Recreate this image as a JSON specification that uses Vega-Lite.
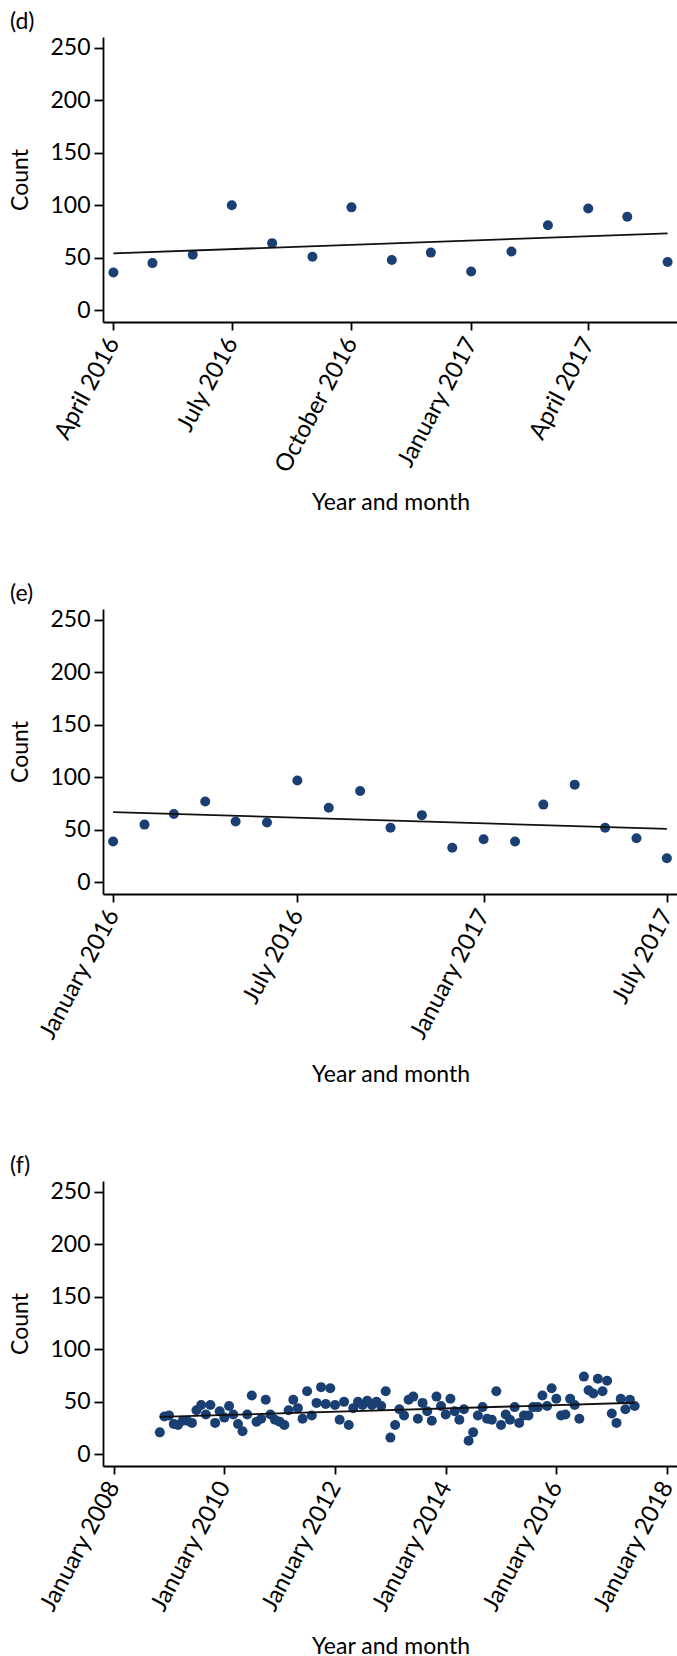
{
  "$schema": "https://vega.github.io/schema/vega-lite/v6.json",
  "padding": {"left": 9, "top": 10, "right": 0, "bottom": 0},
  "autosize": {"type": "pad"},
  "config": {
    "font": "Lato",
    "view": {"stroke": null},
    "axis": {"grid": false, "domainColor": "#000", "domainWidth": 1.8, "tickColor": "#000", "tickWidth": 1.8, "labelFont": "Lato", "labelFontSize": 23, "labelColor": "#000", "titleFont": "Lato", "titleFontSize": 23, "titleFontWeight": "normal", "titleColor": "#000"},
    "axisX": {"labelFontSize": 24, "labelAngle": -62, "tickSize": 8, "labelPadding": 9, "titleY": 187, "titleBaseline": "alphabetic"},
    "axisY": {"tickSize": 9, "labelPadding": 4, "titlePadding": 17},
    "title": {"fontSize": 23, "fontWeight": "normal", "anchor": "start", "frame": "bounds", "color": "#000", "offset": 3},
    "concat": {"spacing": 68}
  },
  "datasets": {
    "d": [
      {"month": "2016-04-01", "count": 36}, {"month": "2016-05-01", "count": 45}, {"month": "2016-06-01", "count": 53},
      {"month": "2016-07-01", "count": 100}, {"month": "2016-08-01", "count": 64}, {"month": "2016-09-01", "count": 51},
      {"month": "2016-10-01", "count": 98}, {"month": "2016-11-01", "count": 48}, {"month": "2016-12-01", "count": 55},
      {"month": "2017-01-01", "count": 37}, {"month": "2017-02-01", "count": 56}, {"month": "2017-03-01", "count": 81},
      {"month": "2017-04-01", "count": 97}, {"month": "2017-05-01", "count": 89}, {"month": "2017-06-01", "count": 46}
    ],
    "e": [
      {"month": "2016-01-01", "count": 39}, {"month": "2016-02-01", "count": 55}, {"month": "2016-03-01", "count": 65},
      {"month": "2016-04-01", "count": 77}, {"month": "2016-05-01", "count": 58}, {"month": "2016-06-01", "count": 57},
      {"month": "2016-07-01", "count": 97}, {"month": "2016-08-01", "count": 71}, {"month": "2016-09-01", "count": 87},
      {"month": "2016-10-01", "count": 52}, {"month": "2016-11-01", "count": 64}, {"month": "2016-12-01", "count": 33},
      {"month": "2017-01-01", "count": 41}, {"month": "2017-02-01", "count": 39}, {"month": "2017-03-01", "count": 74},
      {"month": "2017-04-01", "count": 93}, {"month": "2017-05-01", "count": 52}, {"month": "2017-06-01", "count": 42},
      {"month": "2017-07-01", "count": 23}
    ],
    "f": [
      {"month": "2008-11-01", "count": 21}, {"month": "2008-12-01", "count": 36},
      {"month": "2009-01-01", "count": 37}, {"month": "2009-02-01", "count": 29}, {"month": "2009-03-01", "count": 28},
      {"month": "2009-04-01", "count": 32}, {"month": "2009-05-01", "count": 32}, {"month": "2009-06-01", "count": 30},
      {"month": "2009-07-01", "count": 42}, {"month": "2009-08-01", "count": 47}, {"month": "2009-09-01", "count": 38},
      {"month": "2009-10-01", "count": 47}, {"month": "2009-11-01", "count": 30}, {"month": "2009-12-01", "count": 41},
      {"month": "2010-01-01", "count": 35}, {"month": "2010-02-01", "count": 46}, {"month": "2010-03-01", "count": 38},
      {"month": "2010-04-01", "count": 29}, {"month": "2010-05-01", "count": 22}, {"month": "2010-06-01", "count": 38},
      {"month": "2010-07-01", "count": 56}, {"month": "2010-08-01", "count": 31}, {"month": "2010-09-01", "count": 34},
      {"month": "2010-10-01", "count": 52}, {"month": "2010-11-01", "count": 38}, {"month": "2010-12-01", "count": 33},
      {"month": "2011-01-01", "count": 31}, {"month": "2011-02-01", "count": 28}, {"month": "2011-03-01", "count": 42},
      {"month": "2011-04-01", "count": 52}, {"month": "2011-05-01", "count": 44}, {"month": "2011-06-01", "count": 34},
      {"month": "2011-07-01", "count": 60}, {"month": "2011-08-01", "count": 37}, {"month": "2011-09-01", "count": 49},
      {"month": "2011-10-01", "count": 64}, {"month": "2011-11-01", "count": 48}, {"month": "2011-12-01", "count": 63},
      {"month": "2012-01-01", "count": 47}, {"month": "2012-02-01", "count": 33}, {"month": "2012-03-01", "count": 50},
      {"month": "2012-04-01", "count": 28}, {"month": "2012-05-01", "count": 44}, {"month": "2012-06-01", "count": 50},
      {"month": "2012-07-01", "count": 47}, {"month": "2012-08-01", "count": 51}, {"month": "2012-09-01", "count": 47},
      {"month": "2012-10-01", "count": 50}, {"month": "2012-11-01", "count": 46}, {"month": "2012-12-01", "count": 60},
      {"month": "2013-01-01", "count": 16}, {"month": "2013-02-01", "count": 28}, {"month": "2013-03-01", "count": 43},
      {"month": "2013-04-01", "count": 37}, {"month": "2013-05-01", "count": 52}, {"month": "2013-06-01", "count": 55},
      {"month": "2013-07-01", "count": 34}, {"month": "2013-08-01", "count": 49}, {"month": "2013-09-01", "count": 41},
      {"month": "2013-10-01", "count": 32}, {"month": "2013-11-01", "count": 55}, {"month": "2013-12-01", "count": 46},
      {"month": "2014-01-01", "count": 38}, {"month": "2014-02-01", "count": 53}, {"month": "2014-03-01", "count": 41},
      {"month": "2014-04-01", "count": 33}, {"month": "2014-05-01", "count": 43}, {"month": "2014-06-01", "count": 13},
      {"month": "2014-07-01", "count": 21}, {"month": "2014-08-01", "count": 37}, {"month": "2014-09-01", "count": 45},
      {"month": "2014-10-01", "count": 34}, {"month": "2014-11-01", "count": 33}, {"month": "2014-12-01", "count": 60},
      {"month": "2015-01-01", "count": 28}, {"month": "2015-02-01", "count": 38}, {"month": "2015-03-01", "count": 33},
      {"month": "2015-04-01", "count": 45}, {"month": "2015-05-01", "count": 30}, {"month": "2015-06-01", "count": 37},
      {"month": "2015-07-01", "count": 37}, {"month": "2015-08-01", "count": 45}, {"month": "2015-09-01", "count": 45},
      {"month": "2015-10-01", "count": 56}, {"month": "2015-11-01", "count": 46}, {"month": "2015-12-01", "count": 63},
      {"month": "2016-01-01", "count": 53}, {"month": "2016-02-01", "count": 37}, {"month": "2016-03-01", "count": 38},
      {"month": "2016-04-01", "count": 53}, {"month": "2016-05-01", "count": 47}, {"month": "2016-06-01", "count": 34},
      {"month": "2016-07-01", "count": 74}, {"month": "2016-08-01", "count": 61}, {"month": "2016-09-01", "count": 58},
      {"month": "2016-10-01", "count": 72}, {"month": "2016-11-01", "count": 60}, {"month": "2016-12-01", "count": 70},
      {"month": "2017-01-01", "count": 39}, {"month": "2017-02-01", "count": 30}, {"month": "2017-03-01", "count": 53},
      {"month": "2017-04-01", "count": 43}, {"month": "2017-05-01", "count": 52}, {"month": "2017-06-01", "count": 46}
    ]
  },
  "vconcat": [
    {
      "title": {"text": "(d)"},
      "width": 575, "height": 285,
      "data": {"name": "d"},
      "layer": [
        {
          "mark": {"type": "point", "filled": true, "size": 100, "color": "#1a3f72", "opacity": 1},
          "encoding": {
            "x": {"field": "month", "type": "temporal",
              "scale": {"type": "utc", "domain": [{"year": 2016, "month": 3, "date": 24, "utc": true}, {"year": 2017, "month": 6, "date": 9, "utc": true}]},
              "axis": {"values": [{"year": 2016, "month": 4, "date": 1, "utc": true}, {"year": 2016, "month": 7, "date": 1, "utc": true}, {"year": 2016, "month": 10, "date": 1, "utc": true}, {"year": 2017, "month": 1, "date": 1, "utc": true}, {"year": 2017, "month": 4, "date": 1, "utc": true}],
                "labelExpr": "utcFormat(datum.value, '%B %Y')", "title": "Year and month"}},
            "y": {"field": "count", "type": "quantitative",
              "scale": {"domain": [-11, 260], "nice": false, "zero": false},
              "axis": {"values": [0, 50, 100, 150, 200, 250], "title": "Count"}}
          }
        },
        {
          "transform": [{"regression": "count", "on": "month"}],
          "mark": {"type": "line", "color": "#111111", "strokeWidth": 1.8},
          "encoding": {"x": {"field": "month", "type": "temporal"}, "y": {"field": "count", "type": "quantitative"}}
        }
      ]
    },
    {
      "title": {"text": "(e)"},
      "width": 575, "height": 285,
      "data": {"name": "e"},
      "layer": [
        {
          "mark": {"type": "point", "filled": true, "size": 100, "color": "#1a3f72", "opacity": 1},
          "encoding": {
            "x": {"field": "month", "type": "temporal",
              "scale": {"type": "utc", "domain": [{"year": 2015, "month": 12, "date": 22, "utc": true}, {"year": 2017, "month": 7, "date": 12, "utc": true}]},
              "axis": {"values": [{"year": 2016, "month": 1, "date": 1, "utc": true}, {"year": 2016, "month": 7, "date": 1, "utc": true}, {"year": 2017, "month": 1, "date": 1, "utc": true}, {"year": 2017, "month": 7, "date": 1, "utc": true}],
                "labelExpr": "utcFormat(datum.value, '%B %Y')", "title": "Year and month"}},
            "y": {"field": "count", "type": "quantitative",
              "scale": {"domain": [-11, 260], "nice": false, "zero": false},
              "axis": {"values": [0, 50, 100, 150, 200, 250], "title": "Count"}}
          }
        },
        {
          "transform": [{"regression": "count", "on": "month"}],
          "mark": {"type": "line", "color": "#111111", "strokeWidth": 1.8},
          "encoding": {"x": {"field": "month", "type": "temporal"}, "y": {"field": "count", "type": "quantitative"}}
        }
      ]
    },
    {
      "title": {"text": "(f)"},
      "width": 575, "height": 285,
      "data": {"name": "f"},
      "layer": [
        {
          "mark": {"type": "point", "filled": true, "size": 100, "color": "#1a3f72", "opacity": 1},
          "encoding": {
            "x": {"field": "month", "type": "temporal",
              "scale": {"type": "utc", "domain": [{"year": 2007, "month": 10, "date": 23, "utc": true}, {"year": 2018, "month": 3, "date": 14, "utc": true}]},
              "axis": {"values": [{"year": 2008, "month": 1, "date": 1, "utc": true}, {"year": 2010, "month": 1, "date": 1, "utc": true}, {"year": 2012, "month": 1, "date": 1, "utc": true}, {"year": 2014, "month": 1, "date": 1, "utc": true}, {"year": 2016, "month": 1, "date": 1, "utc": true}, {"year": 2018, "month": 1, "date": 1, "utc": true}],
                "labelExpr": "utcFormat(datum.value, '%B %Y')", "title": "Year and month"}},
            "y": {"field": "count", "type": "quantitative",
              "scale": {"domain": [-11, 260], "nice": false, "zero": false},
              "axis": {"values": [0, 50, 100, 150, 200, 250], "title": "Count"}}
          }
        },
        {
          "transform": [{"regression": "count", "on": "month"}],
          "mark": {"type": "line", "color": "#111111", "strokeWidth": 1.8},
          "encoding": {"x": {"field": "month", "type": "temporal"}, "y": {"field": "count", "type": "quantitative"}}
        }
      ]
    }
  ]
}
